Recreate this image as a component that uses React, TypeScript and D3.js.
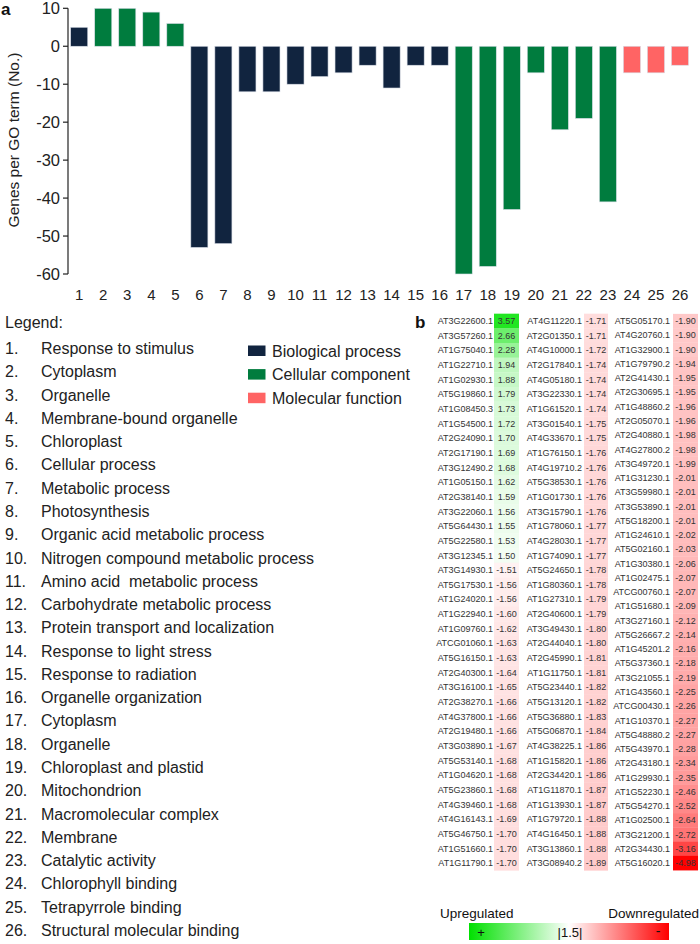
import React from "react";
import * as d3 from "d3";

const goIds = d3.range(1, 27);
const goValues = [5, 10, 10, 9, 6, -53, -52, -12, -12, -10, -8, -7, -5, -11, -5, -5, -60, -58, -43, -7, -22, -19, -41, -7, -7, -5];
const goCategory = ["BP", "CC", "CC", "CC", "CC", "BP", "BP", "BP", "BP", "BP", "BP", "BP", "BP", "BP", "BP", "BP", "CC", "CC", "CC", "CC", "CC", "CC", "CC", "MF", "MF", "MF"];
const goTerms = [
  "Response to stimulus", "Cytoplasm", "Organelle", "Membrane-bound organelle", "Chloroplast",
  "Cellular process", "Metabolic process", "Photosynthesis", "Organic acid metabolic process",
  "Nitrogen compound metabolic process", "Amino acid  metabolic process", "Carbohydrate metabolic process",
  "Protein transport and localization", "Response to light stress", "Response to radiation",
  "Organelle organization", "Cytoplasm", "Organelle", "Chloroplast and plastid", "Mitochondrion",
  "Macromolecular complex", "Membrane", "Catalytic activity", "Chlorophyll binding",
  "Tetrapyrrole binding", "Structural molecular binding",
];
const categoryKeys = ["BP", "CC", "MF"];
const categoryLabels = ["Biological process", "Cellular component", "Molecular function"];
const categoryColors = ["#11243f", "#007c3e", "#ff6464"];
const yTicks = [10, 0, -10, -20, -30, -40, -50, -60];

const genes1 = ["AT3G22600.1", "AT3G57260.1", "AT1G75040.1", "AT1G22710.1", "AT1G02930.1", "AT5G19860.1", "AT1G08450.3", "AT1G54500.1", "AT2G24090.1", "AT2G17190.1", "AT3G12490.2", "AT1G05150.1", "AT2G38140.1", "AT3G22060.1", "AT5G64430.1", "AT5G22580.1", "AT3G12345.1", "AT3G14930.1", "AT5G17530.1", "AT1G24020.1", "AT1G22940.1", "AT1G09760.1", "ATCG01060.1", "AT5G16150.1", "AT2G40300.1", "AT3G16100.1", "AT2G38270.1", "AT4G37800.1", "AT2G19480.1", "AT3G03890.1", "AT5G53140.1", "AT1G04620.1", "AT5G23860.1", "AT4G39460.1", "AT4G16143.1", "AT5G46750.1", "AT1G51660.1", "AT1G11790.1"];
const fold1 = [3.57, 2.66, 2.28, 1.94, 1.88, 1.79, 1.73, 1.72, 1.70, 1.69, 1.68, 1.62, 1.59, 1.56, 1.55, 1.53, 1.50, -1.51, -1.56, -1.56, -1.60, -1.62, -1.63, -1.63, -1.64, -1.65, -1.66, -1.66, -1.66, -1.67, -1.68, -1.68, -1.68, -1.68, -1.69, -1.70, -1.70, -1.70];
const genes2 = ["AT4G11220.1", "AT2G01350.1", "AT4G10000.1", "AT2G17840.1", "AT4G05180.1", "AT3G22330.1", "AT1G61520.1", "AT3G01540.1", "AT4G33670.1", "AT1G76150.1", "AT4G19710.2", "AT5G38530.1", "AT1G01730.1", "AT3G15790.1", "AT1G78060.1", "AT4G28030.1", "AT1G74090.1", "AT5G24650.1", "AT1G80360.1", "AT1G27310.1", "AT2G40600.1", "AT3G49430.1", "AT2G44040.1", "AT2G45990.1", "AT1G11750.1", "AT5G23440.1", "AT5G13120.1", "AT5G36880.1", "AT5G06870.1", "AT4G38225.1", "AT1G15820.1", "AT2G34420.1", "AT1G11870.1", "AT1G13930.1", "AT1G79720.1", "AT4G16450.1", "AT3G13860.1", "AT3G08940.2"];
const fold2 = [-1.71, -1.71, -1.72, -1.74, -1.74, -1.74, -1.74, -1.75, -1.75, -1.76, -1.76, -1.76, -1.76, -1.76, -1.77, -1.77, -1.77, -1.78, -1.78, -1.79, -1.79, -1.80, -1.80, -1.81, -1.81, -1.82, -1.82, -1.83, -1.84, -1.86, -1.86, -1.86, -1.87, -1.87, -1.88, -1.88, -1.88, -1.89];
const genes3 = ["AT5G05170.1", "AT4G20760.1", "AT1G32900.1", "AT1G79790.2", "AT2G41430.1", "AT2G30695.1", "AT1G48860.2", "AT2G05070.1", "AT2G40880.1", "AT4G27800.2", "AT3G49720.1", "AT1G31230.1", "AT3G59980.1", "AT3G53890.1", "AT5G18200.1", "AT1G24610.1", "AT5G02160.1", "AT1G30380.1", "AT1G02475.1", "ATCG00760.1", "AT1G51680.1", "AT3G27160.1", "AT5G26667.2", "AT1G45201.2", "AT5G37360.1", "AT3G21055.1", "AT1G43560.1", "ATCG00430.1", "AT1G10370.1", "AT5G48880.2", "AT5G43970.1", "AT2G43180.1", "AT1G29930.1", "AT1G52230.1", "AT5G54270.1", "AT1G02500.1", "AT3G21200.1", "AT2G34430.1", "AT5G16020.1"];
const fold3 = [-1.90, -1.90, -1.90, -1.94, -1.95, -1.95, -1.96, -1.96, -1.98, -1.98, -1.99, -2.01, -2.01, -2.01, -2.01, -2.02, -2.03, -2.06, -2.07, -2.07, -2.09, -2.12, -2.14, -2.16, -2.18, -2.19, -2.25, -2.26, -2.27, -2.27, -2.28, -2.34, -2.35, -2.46, -2.52, -2.64, -2.72, -3.16, -4.98];

const FONT = "'Liberation Sans', Arial, Helvetica, sans-serif";

export default function App() {
  const x = d3.scaleBand<number>().domain(goIds).range([67.2, 692]).paddingInner(0.29).paddingOuter(0.145);
  const y = d3.scaleLinear().domain([-60, 10]).range([274, 8.3]);
  const catColor = d3.scaleOrdinal<string, string>().domain(categoryKeys).range(categoryColors);

  const upColor = d3.scaleLinear<string>().domain([1.5, 3.3]).range(["#f3fdf3", "#22e622"]).clamp(true);
  const downColor = d3.scaleLinear<string>().domain([-1.5, -3.2, -5]).range(["#fff3f3", "#ff4242", "#ff0000"]).clamp(true);
  const cellColor = (v: number) => (v > 0 ? upColor(v) : downColor(v));

  const legendY = d3.scaleLinear().domain([1, 26]).range([354, 936]);

  const tableTop = 321;
  const tableBottom = 863;
  const columns = [
    { genes: genes1, vals: fold1, nameRight: 493, cellX: 494, cellW: 25 },
    { genes: genes2, vals: fold2, nameRight: 582, cellX: 584, cellW: 24 },
    { genes: genes3, vals: fold3, nameRight: 670, cellX: 673, cellW: 25 },
  ];

  return (
    <svg width={700} height={944} style={{ position: "absolute", left: 0, top: 0, fontFamily: FONT }}>
      <defs>
        <linearGradient id="cbar" x1="0" x2="1" y1="0" y2="0">
          <stop offset="0%" stopColor="#00e000" />
          <stop offset="50%" stopColor="#ffffff" />
          <stop offset="100%" stopColor="#ff0000" />
        </linearGradient>
      </defs>
      <rect width={700} height={944} fill="#fff" />
      {/* panel a */}
      <text x={1} y={15} fontSize={17} fontWeight="bold" fill="#111">a</text>
      <line x1={68} x2={68} y1={y(10)} y2={y(-60)} stroke="#222" strokeWidth={1.2} />
      {yTicks.map((t) => (
        <g key={t}>
          <line x1={63} x2={68} y1={y(t)} y2={y(t)} stroke="#222" strokeWidth={1.2} />
          <text x={60} y={y(t)} dy="0.36em" textAnchor="end" fontSize={16.5} fill="#222">{t}</text>
        </g>
      ))}
      <text transform={`translate(19,${140}) rotate(-90)`} textAnchor="middle" fontSize={15.5} fill="#222">Genes per GO term (No.)</text>
      {goIds.map((id, i) => {
        const v = goValues[i];
        return (
          <rect key={id} x={x(id)} width={x.bandwidth()} y={Math.min(y(v), y(0))} height={Math.abs(y(v) - y(0))}
            fill={catColor(goCategory[i])} stroke="#d8dde6" strokeWidth={0.6} />
        );
      })}
      {goIds.map((id) => (
        <text key={id} x={(x(id) as number) + x.bandwidth() / 2} y={300} textAnchor="middle" fontSize={15} fill="#222">{id}</text>
      ))}

      {/* legend */}
      <text x={5} y={328} fontSize={16} fill="#222">Legend:</text>
      {goTerms.map((t, i) => (
        <g key={i}>
          <text x={5} y={legendY(i + 1)} fontSize={16} fill="#222">{`${i + 1}.`}</text>
          <text x={41} y={legendY(i + 1)} fontSize={16} fill="#222" style={{ whiteSpace: "pre" }}>{t}</text>
        </g>
      ))}
      {categoryLabels.map((c, i) => (
        <g key={c}>
          <rect x={248} y={345.5 + i * 23.6} width={17.5} height={10.5} fill={categoryColors[i]} />
          <text x={272} y={351 + i * 23.6} dy="0.36em" fontSize={16} fill="#222">{c}</text>
        </g>
      ))}

      {/* panel b */}
      <text x={415} y={328} fontSize={17} fontWeight="bold" fill="#111">b</text>
      {columns.map((col, ci) => {
        const n = col.genes.length;
        const step = (tableBottom - tableTop) / (n - 1);
        return (
          <g key={ci}>
            {col.genes.map((g, ri) => {
              const cy = tableTop + ri * step;
              const v = col.vals[ri];
              return (
                <g key={g}>
                  <rect x={col.cellX} y={cy - step / 2} width={col.cellW} height={step + 0.3} fill={cellColor(v)} />
                  <text x={col.nameRight} y={cy} dy="0.35em" textAnchor="end" fontSize={9} fill="#333">{g}</text>
                  <text x={col.cellX + col.cellW / 2} y={cy} dy="0.35em" textAnchor="middle" fontSize={9} fill="#333">{v.toFixed(2)}</text>
                </g>
              );
            })}
          </g>
        );
      })}

      {/* colour bar */}
      <text x={440} y={918} fontSize={13.5} fill="#111">Upregulated</text>
      <text x={699} y={918} textAnchor="end" fontSize={13.5} fill="#111">Downregulated</text>
      <rect x={469} y={923} width={200} height={17} fill="url(#cbar)" />
      <text x={481} y={937} textAnchor="middle" fontSize={13} fill="#111">+</text>
      <text x={570} y={937} textAnchor="middle" fontSize={13} fill="#111">|1.5|</text>
      <text x={658} y={936} textAnchor="middle" fontSize={14} fill="#111">-</text>
    </svg>
  );
}
